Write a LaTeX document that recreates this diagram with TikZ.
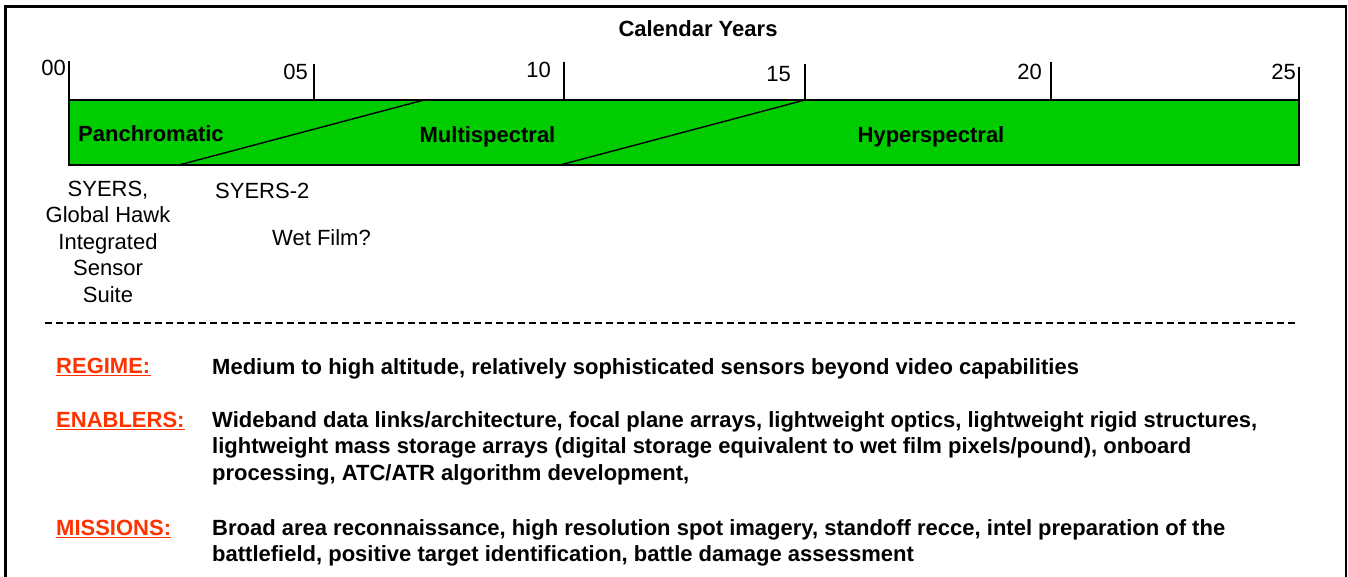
\documentclass[tikz,border=0pt]{standalone}
\usepackage{fontspec}
\setmainfont{Liberation Sans}
\definecolor{barGreen}{HTML}{00CC00}
\definecolor{labRed}{HTML}{FF3300}
\begin{document}
\begin{tikzpicture}[x=1pt,y=-1pt,
  txt/.style={font=\fontsize{22}{26.5}\selectfont, inner sep=0pt},
  btxt/.style={font=\bfseries\fontsize{22}{26.5}\selectfont, inner sep=0pt},
  redlab/.style={btxt, text=labRed, anchor=base west},
  uline/.style={draw=labRed, line width=1.6pt},
  tick/.style={line width=1.4pt},
  framestyle/.style={line width=2.5pt},
  dashline/.style={line width=1.2pt, dash pattern=on 7pt off 4pt}]
\useasboundingbox (0,0) rectangle (1348,577);
% outer frame
\draw[framestyle] (5.5,580) -- (5.5,6.5) -- (1346,6.5) -- (1346,580);
% title
\node[btxt, anchor=base] (title) at (698,37) {Calendar Years};
% bar
\coordinate (barTL) at (69,100);
\coordinate (barBR) at (1299,165);
\draw[fill=barGreen, line width=1.4pt] (barTL) rectangle (barBR);
\coordinate (d1a) at (179,165); \coordinate (d1b) at (424,100);
\coordinate (d2a) at (560,165); \coordinate (d2b) at (805,100);
\draw[line width=1.4pt] (d1a) -- (d1b);
\draw[line width=1.4pt] (d2a) -- (d2b);
% ticks
\coordinate (t0a) at (69,61);   \coordinate (t0b) at (69,100);
\coordinate (t5a) at (314,64);  \coordinate (t5b) at (314,100);
\coordinate (t10a) at (564,62); \coordinate (t10b) at (564,100);
\coordinate (t15a) at (805,64); \coordinate (t15b) at (805,100);
\coordinate (t20a) at (1051,62);\coordinate (t20b) at (1051,100);
\coordinate (t25a) at (1299,67);\coordinate (t25b) at (1299,100);
\draw[tick] (t0a) -- (t0b);
\draw[tick] (t5a) -- (t5b);
\draw[tick] (t10a) -- (t10b);
\draw[tick] (t15a) -- (t15b);
\draw[tick] (t20a) -- (t20b);
\draw[tick] (t25a) -- (t25b);
\node[txt, anchor=base east] (y00) at (66,76) {00};
\node[txt, anchor=base east] (y05) at (308,80) {05};
\node[txt, anchor=base east] (y10) at (551,78) {10};
\node[txt, anchor=base east] (y15) at (791,82) {15};
\node[txt, anchor=base east] (y20) at (1042,80) {20};
\node[txt, anchor=base east] (y25) at (1296,80) {25};
% bar labels
\node[btxt, anchor=base west] (pan) at (78,142) {Panchromatic};
\node[btxt, anchor=base] (multi) at (487.5,143) {Multispectral};
\node[btxt, anchor=base] (hyper) at (931,143) {Hyperspectral};
% sensors
\node[txt, align=center, anchor=base] (syers) at (108,302) {SYERS,\\Global Hawk\\Integrated\\Sensor\\Suite};
\node[txt, anchor=base west] (syers2) at (215,199) {SYERS-2};
\node[txt, anchor=base west] (wet) at (272,246) {Wet Film?};
% dashed separator
\coordinate (dsA) at (45,323); \coordinate (dsB) at (1295,323);
\draw[dashline] (dsA) -- (dsB);
% regime
\node[redlab] (regime) at (56,373) {REGIME:};
\draw[uline] ([yshift=-2.5pt]regime.base west) -- ([yshift=-2.5pt]regime.base east);
\node[btxt, anchor=base west] (regimeT) at (212,374) {Medium to high altitude, relatively sophisticated sensors beyond video capabilities};
% enablers
\node[redlab] (enab) at (56,427) {ENABLERS:};
\draw[uline] ([yshift=-2.5pt]enab.base west) -- ([yshift=-2.5pt]enab.base east);
\node[btxt, anchor=base west, align=left] (enabT) at (212,480) {Wideband data links/architecture, focal plane arrays, lightweight optics, lightweight rigid structures,\\lightweight mass storage arrays (digital storage equivalent to wet film pixels/pound), onboard\\processing, ATC/ATR algorithm development,};
% missions
\node[redlab] (miss) at (56,535) {MISSIONS:};
\draw[uline] ([yshift=-2.5pt]miss.base west) -- ([yshift=-2.5pt]miss.base east);
\node[btxt, anchor=base west, align=left, font=\bfseries\fontsize{22}{26}\selectfont] (missT) at (212,561) {Broad area reconnaissance, high resolution spot imagery, standoff recce, intel preparation of the\\battlefield, positive target identification, battle damage assessment};
\end{tikzpicture}
\end{document}
